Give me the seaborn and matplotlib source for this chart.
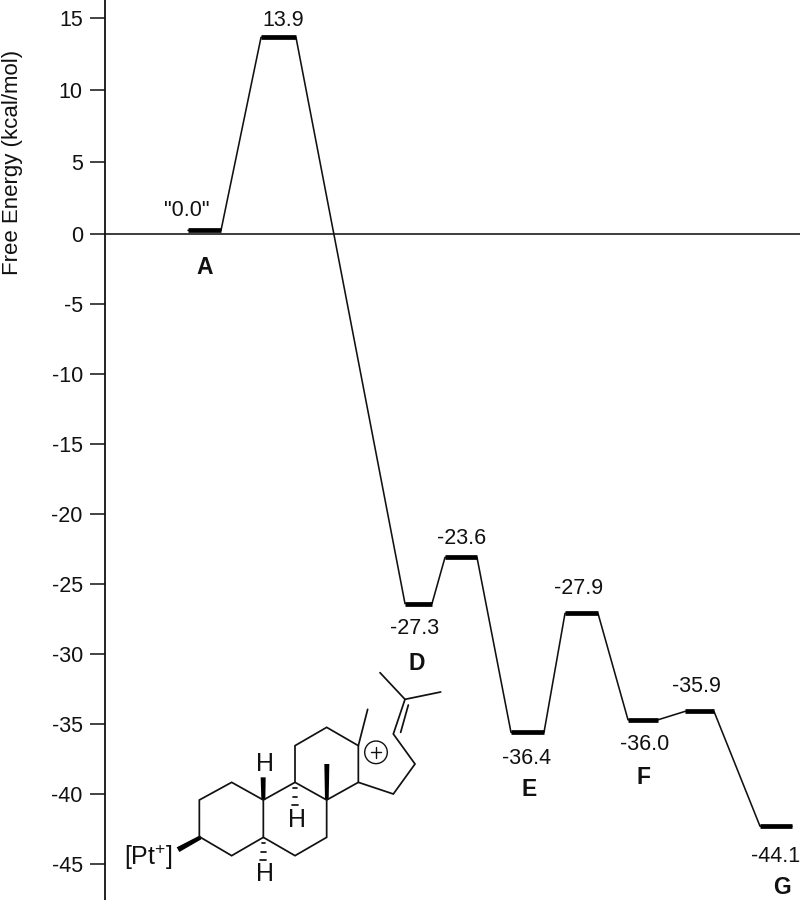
import numpy as np
import pandas as pd
import matplotlib
matplotlib.use("Agg")
import matplotlib.pyplot as plt
from matplotlib.patches import Polygon, Circle
import seaborn as sns

# Energy profile, as drawn in the picture
level_energy = [0.25, 13.65, -26.4, -23.1, -35.6, -27.1, -34.7, -34.1, -42.3]
level_start = [188, 261, 405, 445, 511, 565, 628, 685, 760]
level_end = [221, 296, 432, 477, 544, 598, 658, 714, 792]
tick_values = [15, 10, 5, 0, -5, -10, -15, -20, -25, -30, -35, -40, -45]

# Annotations: text, x px, y px
energy_labels = ["13.9", '"0.0"', "-23.6", "-27.3", "-27.9", "-36.4", "-36.0", "-35.9"]
energy_label_x = [283, 187, 462, 415, 579, 527, 645, 696]
energy_label_y = [20, 210, 538, 629, 589, 758, 744, 687]
state_labels = ["A", "D", "E", "F", "G"]
state_label_x = [205, 417, 529, 644, 782]
state_label_y = [268, 664, 790, 778, 888]

# Skeletal formula, in pixels of a 3x enlargement starting at (0, 660)
bond_paths = [
    [(598, 530), (598, 420), (695, 367), (790, 420), (790, 532), (695, 587), (598, 530)],
    [(790, 532), (885, 587), (980, 532), (980, 420), (885, 367), (790, 420)],
    [(885, 367), (885, 257), (980, 202), (1075, 257), (1075, 367), (980, 420)],
    [(1075, 367), (1180, 402), (1245, 312), (1180, 222), (1215, 118), (1140, 38)],
    [(1215, 118), (1322, 96)],
    [(1202, 217), (1225, 135)],
    [(1075, 257), (1103, 148)],
]
wedges = [
    [(600, 526), (604, 538), (538, 576), (530, 562)],
    [(784, 420), (796, 420), (797, 352), (782, 352)],
    [(975, 420), (986, 420), (988, 312), (973, 312)],
]
hash_marks = [
    (885, 385, 5), (885, 410, 7), (885, 435, 9),
    (790, 550, 5), (790, 575, 7), (790, 600, 9),
]
atom_labels = [("H", 795, 313), ("H", 890, 479), ("H", 795, 643)]

sns.set_theme(style="white")
plt.rcParams["font.family"] = ["Liberation Sans", "DejaVu Sans"]
plt.rcParams["mathtext.default"] = "regular"

INK = "#111111"
fig = plt.figure(figsize=(8, 9), dpi=100)
ax = fig.add_axes([105 / 800, 0, 695 / 800, 1])


def forward(v):
    v = np.asarray(v, dtype=float)
    return np.where(v > 0, v * 14.4, v * 14.0)


def inverse(p):
    p = np.asarray(p, dtype=float)
    return np.where(p > 0, p / 14.4, p / 14.0)


ax.set_yscale("function", functions=(forward, inverse))

path = pd.DataFrame({
    "x": np.ravel(np.column_stack([level_start, level_end])),
    "energy": np.repeat(level_energy, 2),
    "level": np.repeat(np.arange(len(level_energy)), 2),
})
sns.lineplot(data=path, x="x", y="energy", sort=False, estimator=None,
             color=INK, lw=1.15, ax=ax, zorder=2)
sns.lineplot(data=path, x="x", y="energy", units="level", sort=False, estimator=None,
             color="black", lw=3.4, ax=ax, zorder=3, solid_capstyle="butt")

ax.axhline(0, color=INK, lw=1.15, zorder=1)
ax.set_xlim(105, 800)
ax.set_ylim(-666 / 14.0, 234 / 14.4)
ax.set_xticks([])
ax.set_yticks(tick_values)
ax.set_yticklabels([str(t) for t in tick_values])
ax.minorticks_off()
ax.tick_params(axis="y", which="major", left=True, length=11, width=1.1, pad=5,
               labelsize=15.5, labelcolor=INK, color=INK)
for side in ["top", "right", "bottom"]:
    ax.spines[side].set_visible(False)
ax.spines["left"].set_color(INK)
ax.spines["left"].set_linewidth(1.3)
ax.set_xlabel("")
ax.set_ylabel("Free Energy (kcal/mol)", fontsize=16, color=INK)
ax.yaxis.set_label_coords((23 - 105) / 695, 1 - 162 / 900)

# Overlay in pixel units for annotations
ov = fig.add_axes([0, 0, 1, 1], zorder=5)
ov.set_xlim(0, 800)
ov.set_ylim(900, 0)
ov.axis("off")
ov.patch.set_alpha(0)

for s, x, y in zip(energy_labels, energy_label_x, energy_label_y):
    ov.text(x, y, s, fontsize=15.5, ha="center", va="center", color=INK)
ov.text(751, 857, "-44.1", fontsize=15.5, ha="left", va="center", color=INK)
for s, x, y in zip(state_labels, state_label_x, state_label_y):
    ov.text(x, y, s, fontsize=16.5, fontweight="bold", ha="center", va="center", color=INK)


def zx(x):
    return x / 3


def zy(y):
    return 660 + y / 3


for bond in bond_paths:
    xs, ys = zip(*bond)
    ov.plot(zx(np.array(xs)), zy(np.array(ys)), color=INK, lw=1.25, solid_joinstyle="miter")
for w in wedges:
    ov.add_patch(Polygon([(zx(a), zy(b)) for a, b in w], closed=True, color="black", lw=0))
for x, y, half in hash_marks:
    ov.plot([zx(x - half), zx(x + half)], [zy(y), zy(y)], color=INK, lw=1.25)
for s, x, y in atom_labels:
    ov.text(zx(x), zy(y), s, fontsize=18, ha="center", va="center", color=INK)
ov.add_patch(Circle((zx(1128), zy(277)), 11.3, fill=False, ec=INK, lw=1.0))
ov.plot([zx(1112), zx(1144)], [zy(277), zy(277)], color=INK, lw=1.0)
ov.plot([zx(1128), zx(1128)], [zy(261), zy(293)], color=INK, lw=1.0)
ov.text(124, 857, "[Pt$^{+}$]", fontsize=18, ha="left", va="center", color=INK)

fig.savefig("out.png", dpi=100)
